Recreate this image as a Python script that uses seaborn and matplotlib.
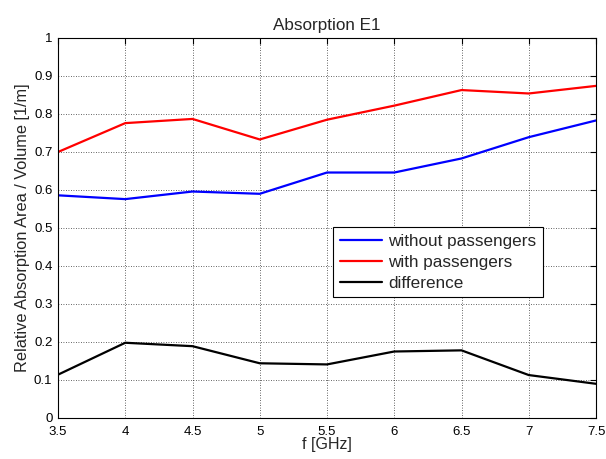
import numpy as np
import pandas as pd
import matplotlib
matplotlib.use("Agg")
import matplotlib.pyplot as plt
import seaborn as sns
from matplotlib.ticker import FuncFormatter

freq = [3.5, 4.0, 4.5, 5.0, 5.5, 6.0, 6.5, 7.0, 7.5]
without_passengers = [0.586, 0.576, 0.596, 0.590, 0.646, 0.646, 0.683, 0.739, 0.783]
with_passengers = [0.700, 0.776, 0.787, 0.733, 0.785, 0.822, 0.863, 0.854, 0.874]
difference = [0.114, 0.198, 0.189, 0.144, 0.141, 0.175, 0.178, 0.113, 0.090]
series_names = ["without passengers", "with passengers", "difference"]
series_colors = ["#0000ff", "#ff0000", "#000000"]

df = pd.concat([
    pd.DataFrame({"f": freq, "value": vals, "series": name})
    for name, vals in zip(series_names, [without_passengers, with_passengers, difference])
], ignore_index=True)

sns.set_style("white")
plt.rcParams["font.family"] = ["Liberation Sans", "DejaVu Sans"]

fig = plt.figure(figsize=(6.06, 4.59), dpi=100)
ax = fig.add_axes([58/606, 41/459, 538/606, 380/459])

sns.lineplot(data=df, x="f", y="value", hue="series", hue_order=series_names,
             palette=dict(zip(series_names, series_colors)), linewidth=1.6, ax=ax)

ax.set_xlim(3.5, 7.5)
ax.set_ylim(0, 1)
ax.set_xticks(np.arange(3.5, 7.51, 0.5))
ax.set_yticks(np.arange(0, 1.01, 0.1))
ax.xaxis.set_major_formatter(FuncFormatter(lambda v, p: f"{v:g}"))
ax.yaxis.set_major_formatter(FuncFormatter(lambda v, p: f"{round(v, 1):g}"))
ax.tick_params(axis="both", direction="in", length=4, width=0.8, top=True, right=True,
               labelsize=9.5, colors="black")
ax.tick_params(axis="x", pad=6)
ax.tick_params(axis="y", pad=4)
ax.grid(True, color="black", linestyle=(0, (1, 2)), linewidth=0.6, alpha=0.8)
for s in ax.spines.values():
    s.set_color("black")
    s.set_linewidth(0.8)

ax.set_title("Absorption E1", fontsize=12.3, pad=6)
ax.set_xlabel("f [GHz]", fontsize=11.5, labelpad=-1)
ax.set_ylabel("Relative Absorption Area / Volume [1/m]", fontsize=11.8, labelpad=3)

leg = ax.legend(loc="upper left", bbox_to_anchor=(0.511, 0.503), fontsize=12.3,
                frameon=True, fancybox=False, edgecolor="black", framealpha=1,
                borderaxespad=0, handlelength=2.5, handletextpad=0.35,
                labelspacing=0.35, borderpad=0.4)
leg.get_frame().set_linewidth(0.8)

fig.savefig("out.png", dpi=100)
